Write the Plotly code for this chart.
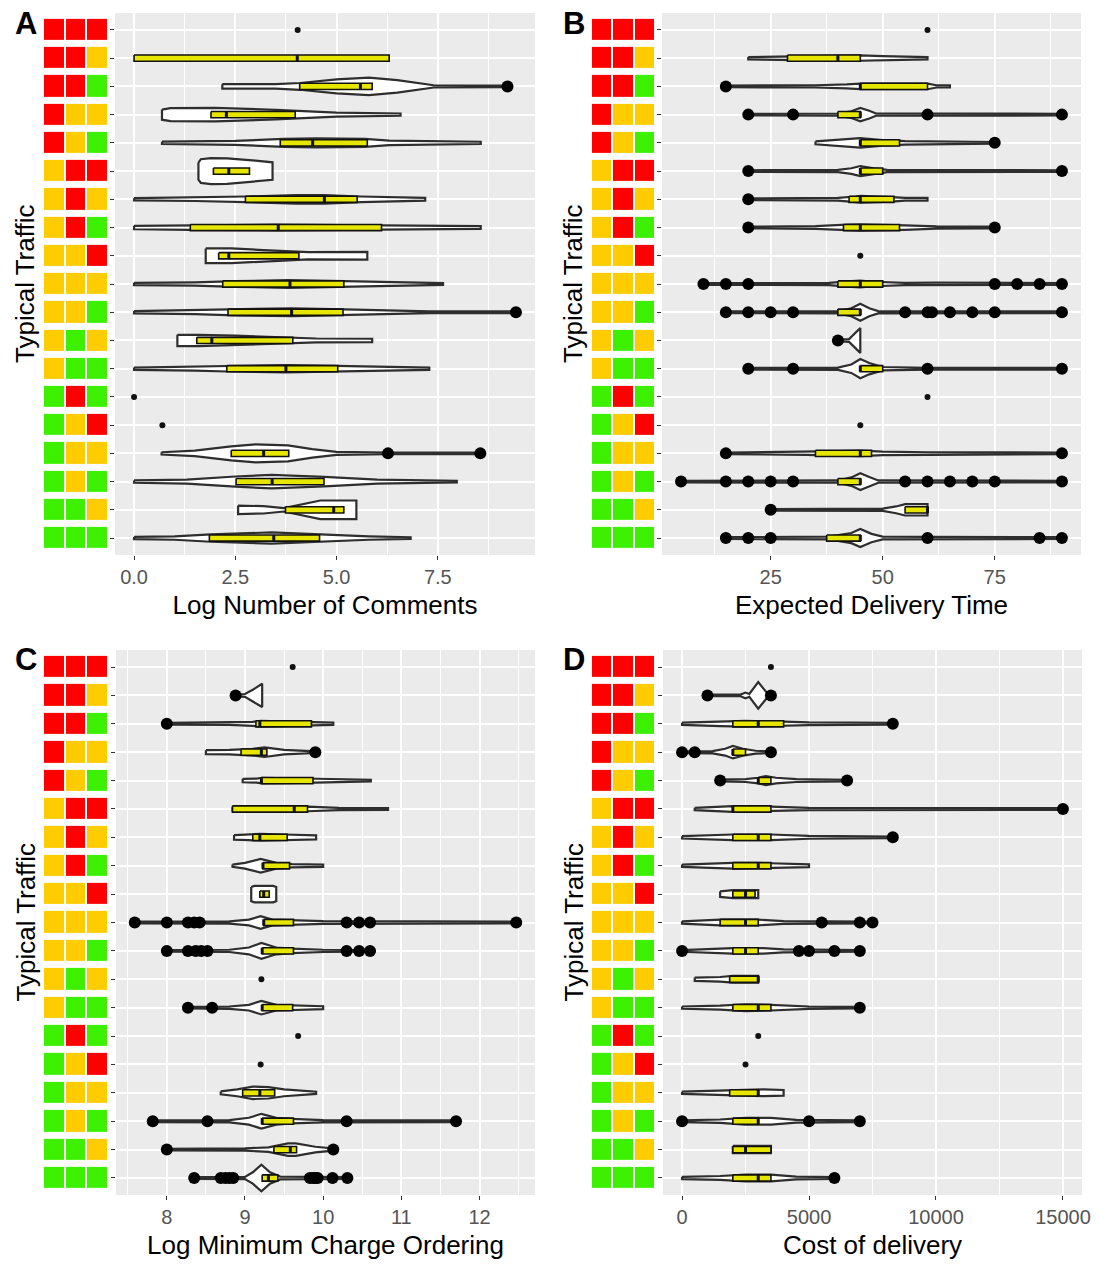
import plotly.graph_objects as go

# Traffic pattern of each row (three periods), top row first
traffic = ["RRR", "RRY", "RRG", "RYY", "RYG", "YRR", "YRY", "YRG", "YYR", "YYY",
           "YYG", "YGY", "YGG", "GRG", "GYR", "GYY", "GYG", "GGY", "GGG"]
level_code = {"G": 0, "Y": 1, "R": 2}
level_colors = ["#3CF000", "#FFCC00", "#FF0000"]

# ---------------- A: Log Number of Comments ----------------
comments_q1 = [None, 0.00, 4.09, 1.90, 3.61, 1.96, 2.75, 1.39, 2.09, 2.19, 2.32, 1.55, 2.29, None, None, 2.40, 2.52, 3.74, 1.86]
comments_med = [None, 4.03, 5.59, 2.28, 4.41, 2.34, 4.70, 3.56, 2.34, 3.85, 3.89, 1.92, 3.75, None, None, 3.20, 3.41, 4.93, 3.45]
comments_q3 = [None, 6.30, 5.88, 3.98, 5.76, 2.85, 5.51, 6.11, 4.07, 5.18, 5.16, 3.92, 5.03, None, None, 3.82, 4.69, 5.18, 4.58]
comments_single = [4.04, None, None, None, None, None, None, None, None, None, None, None, None, 0.00, 0.70, None, None, None, None]
comments_outliers = [[], [], [9.22], [], [], [], [], [], [], [], [9.43], [], [], [], [], [6.27, 8.55], [], [], []]
comments_violin = [
    [],
    [],
    [[2.18, 0.08], [3.5, 0.08], [4.1, 0.12], [5.0, 0.25], [5.8, 0.31], [6.5, 0.22], [7.4, 0.04], [9.22, 0.03]],
    [[0.69, 0.18], [0.9, 0.23], [2.0, 0.24], [3.5, 0.17], [5.0, 0.07], [6.58, 0.04]],
    [[0.69, 0.04], [2.5, 0.07], [3.7, 0.14], [4.5, 0.16], [5.7, 0.14], [6.3, 0.08], [8.56, 0.04]],
    [[1.59, 0.30], [1.65, 0.42], [1.9, 0.46], [2.3, 0.45], [3.0, 0.37], [3.42, 0.31]],
    [[0.0, 0.04], [1.5, 0.06], [2.75, 0.10], [4.0, 0.15], [4.7, 0.15], [5.6, 0.10], [6.5, 0.07], [7.19, 0.05]],
    [[0.0, 0.06], [1.4, 0.08], [3.5, 0.10], [6.1, 0.08], [7.5, 0.06], [8.56, 0.05]],
    [[1.77, 0.26], [2.4, 0.26], [3.2, 0.20], [4.3, 0.13], [5.76, 0.14]],
    [[0.0, 0.04], [1.5, 0.06], [2.5, 0.10], [3.8, 0.14], [5.2, 0.10], [6.5, 0.06], [7.63, 0.03]],
    [[0.0, 0.04], [1.5, 0.07], [2.5, 0.11], [3.9, 0.14], [5.2, 0.10], [6.5, 0.06], [7.3, 0.03], [9.43, 0.03]],
    [[1.07, 0.20], [1.6, 0.20], [2.5, 0.17], [3.9, 0.10], [4.5, 0.07], [5.88, 0.06]],
    [[0.0, 0.04], [1.5, 0.07], [2.3, 0.10], [3.75, 0.13], [5.0, 0.10], [6.2, 0.06], [7.29, 0.04]],
    [],
    [],
    [[0.68, 0.04], [1.5, 0.10], [2.4, 0.25], [3.0, 0.32], [3.8, 0.28], [4.4, 0.15], [5.0, 0.05], [6.27, 0.03], [8.55, 0.03]],
    [[0.0, 0.04], [1.3, 0.07], [2.5, 0.18], [3.4, 0.24], [4.7, 0.17], [6.0, 0.07], [7.97, 0.03]],
    [[2.57, 0.15], [3.2, 0.13], [3.7, 0.06], [4.2, 0.20], [4.6, 0.33], [5.49, 0.33]],
    [[0.0, 0.04], [1.0, 0.06], [1.9, 0.13], [3.4, 0.20], [4.6, 0.13], [5.8, 0.06], [6.83, 0.03]],
]

# ---------------- B: Expected Delivery Time ----------------
delivery_q1 = [None, 28.75, 45, 40, 45, 45, 42.5, 41.25, None, 40, 40, None, 45, None, None, 35, 40, 55, 37.5]
delivery_med = [None, 40, 45, 45, 45, 45, 45, 45, None, 45, 45, None, 45, None, None, 45, 45, 60, 45]
delivery_q3 = [None, 45, 60, 45, 53.75, 50, 52.5, 53.75, None, 50, 45, None, 50, None, None, 47.5, 45, 60, 45]
delivery_single = [60, None, None, None, None, None, None, None, 45, None, None, None, None, 60, 45, None, None, None, None]
delivery_outliers = [
    [], [], [15], [20, 30, 60, 90], [75], [20, 90], [20], [20, 75], [],
    [10, 15, 20, 75, 80, 85, 90],
    [15, 20, 25, 30, 55, 60, 61, 65, 70, 75, 90],
    [40],
    [20, 30, 60, 90],
    [], [],
    [15, 90],
    [5, 15, 20, 25, 30, 55, 60, 65, 70, 75, 90],
    [25],
    [15, 20, 25, 60, 85, 90],
]
delivery_violin = [
    [],
    [[20, 0.04], [26, 0.06], [35, 0.08], [42, 0.10], [45, 0.10], [50, 0.07], [60, 0.04]],
    [[15, 0.03], [35, 0.04], [42, 0.07], [45, 0.10], [55, 0.10], [60, 0.10], [62, 0.04], [65, 0.04]],
    [[20, 0.03], [40, 0.04], [43, 0.12], [45, 0.24], [47, 0.14], [48.5, 0.04], [90, 0.03]],
    [[35, 0.05], [40, 0.10], [45, 0.17], [50, 0.10], [55, 0.06], [75, 0.03]],
    [[20, 0.03], [40, 0.04], [43, 0.10], [45, 0.18], [48, 0.10], [51, 0.04], [90, 0.03]],
    [[20, 0.03], [40, 0.05], [44, 0.10], [45, 0.12], [52, 0.08], [55, 0.05], [60, 0.05]],
    [[20, 0.03], [35, 0.05], [42, 0.10], [45, 0.11], [55, 0.08], [62, 0.04], [75, 0.03]],
    [],
    [[10, 0.03], [38, 0.04], [43, 0.10], [45, 0.12], [48, 0.08], [55, 0.04], [62, 0.05], [90, 0.03]],
    [[15, 0.03], [40, 0.04], [43, 0.14], [45, 0.30], [47, 0.14], [49, 0.04], [90, 0.03]],
    [[40, 0.03], [42.5, 0.05], [45, 0.44]],
    [[20, 0.03], [40, 0.04], [43, 0.15], [45, 0.34], [47, 0.20], [50, 0.06], [60, 0.03], [90, 0.03]],
    [],
    [],
    [[15, 0.03], [33, 0.05], [40, 0.08], [45, 0.10], [50, 0.06], [60, 0.04], [90, 0.03]],
    [[5, 0.03], [40, 0.04], [43, 0.15], [45, 0.30], [47, 0.16], [49, 0.04], [90, 0.03]],
    [[25, 0.03], [50, 0.04], [53, 0.12], [55, 0.20], [60, 0.20]],
    [[15, 0.03], [38, 0.05], [43, 0.18], [45, 0.32], [47.5, 0.15], [50, 0.05], [60, 0.04], [90, 0.03]],
]

# ---------------- C: Log Minimum Charge Ordering ----------------
charge_q1 = [None, None, 9.14, 8.95, 9.21, 8.84, 9.10, 9.23, 9.19, 9.24, 9.22, None, 9.22, None, None, 8.97, 9.22, 9.37, 9.22]
charge_med = [None, None, 9.19, 9.21, 9.21, 9.63, 9.19, 9.23, 9.24, 9.24, 9.22, None, 9.22, None, None, 9.19, 9.22, 9.58, 9.30]
charge_q3 = [None, None, 9.85, 9.28, 9.87, 9.80, 9.54, 9.57, 9.31, 9.62, 9.62, None, 9.61, None, None, 9.38, 9.62, 9.66, 9.42]
charge_single = [9.61, None, None, None, None, None, None, None, None, None, None, 9.21, None, 9.68, 9.20, None, None, None, None]
charge_outliers = [
    [], [8.88], [8.0], [9.9], [], [], [], [], [],
    [7.59, 8.0, 8.27, 8.35, 8.42, 10.3, 10.46, 10.6, 12.47],
    [8.0, 8.27, 8.37, 8.44, 8.52, 10.3, 10.46, 10.6],
    [],
    [8.27, 8.58],
    [], [], [],
    [7.82, 8.52, 10.3, 11.7],
    [8.0, 10.13],
    [8.35, 8.69, 8.75, 8.8, 8.85, 9.83, 9.87, 9.9, 9.93, 10.12, 10.31],
]
charge_violin = [
    [],
    [[8.88, 0.03], [9.0, 0.05], [9.1, 0.20], [9.22, 0.41]],
    [[8.0, 0.03], [8.8, 0.04], [9.1, 0.07], [9.2, 0.10], [9.5, 0.08], [9.9, 0.06], [10.13, 0.04]],
    [[8.5, 0.07], [8.8, 0.08], [9.1, 0.12], [9.25, 0.17], [9.5, 0.08], [9.9, 0.03]],
    [[8.97, 0.06], [9.15, 0.07], [9.22, 0.10], [9.5, 0.09], [9.9, 0.07], [10.2, 0.04], [10.61, 0.03]],
    [[8.84, 0.06], [9.3, 0.07], [9.8, 0.08], [10.2, 0.04], [10.83, 0.03]],
    [[8.86, 0.08], [9.05, 0.10], [9.2, 0.12], [9.5, 0.10], [9.91, 0.07]],
    [[8.84, 0.04], [9.0, 0.10], [9.2, 0.24], [9.4, 0.10], [9.6, 0.06], [10.0, 0.04]],
    [[9.08, 0.25], [9.12, 0.29], [9.36, 0.29], [9.40, 0.25]],
    [[7.59, 0.03], [8.8, 0.04], [9.05, 0.10], [9.2, 0.22], [9.35, 0.10], [9.6, 0.08], [10.0, 0.05], [12.47, 0.03]],
    [[8.0, 0.03], [8.8, 0.04], [9.05, 0.12], [9.21, 0.28], [9.4, 0.12], [9.6, 0.08], [10.0, 0.04], [10.6, 0.03]],
    [],
    [[8.27, 0.03], [8.8, 0.04], [9.05, 0.10], [9.21, 0.24], [9.4, 0.10], [9.7, 0.07], [10.0, 0.05]],
    [],
    [],
    [[8.69, 0.05], [8.9, 0.12], [9.1, 0.22], [9.3, 0.20], [9.5, 0.12], [9.7, 0.07], [9.91, 0.04]],
    [[7.82, 0.03], [8.8, 0.04], [9.05, 0.12], [9.21, 0.26], [9.4, 0.12], [9.6, 0.08], [10.0, 0.04], [11.7, 0.03]],
    [[8.0, 0.03], [9.0, 0.04], [9.3, 0.08], [9.55, 0.22], [9.65, 0.22], [9.9, 0.10], [10.13, 0.04]],
    [[8.35, 0.03], [9.0, 0.04], [9.1, 0.20], [9.21, 0.47], [9.32, 0.20], [9.45, 0.05], [10.31, 0.03]],
]

# ---------------- D: Cost of delivery ----------------
cost_q1 = [None, None, 2000, 2000, 3000, 2000, 2000, 2000, 2000, 1500, 2000, 1875, 2000, None, None, 1875, 2000, 2000, 2000]
cost_med = [None, None, 3000, 2000, 3000, 2000, 3000, 3000, 2500, 2500, 2500, 3000, 3000, None, None, 3000, 3000, 2500, 3000]
cost_q3 = [None, None, 4000, 2500, 3500, 3500, 3500, 3500, 2875, 3000, 3000, 3000, 3500, None, None, 3000, 3000, 3500, 3500]
cost_single = [3500, None, None, None, None, None, None, None, None, None, None, None, None, 3000, 2500, None, None, None, None]
cost_outliers = [
    [], [1000, 3500], [8300], [0, 500, 3500], [1500, 6500], [15000], [8300], [], [],
    [5500, 7000, 7500],
    [0, 4600, 5000, 6000, 7000],
    [],
    [7000],
    [], [], [],
    [0, 5000, 7000],
    [],
    [6000],
]
cost_violin = [
    [],
    [[1000, 0.03], [2300, 0.03], [2500, 0.10], [2650, 0.05], [3000, 0.47], [3350, 0.08], [3500, 0.03]],
    [[0, 0.04], [1500, 0.08], [2500, 0.10], [4000, 0.08], [5000, 0.05], [8300, 0.03]],
    [[0, 0.03], [1200, 0.04], [1700, 0.12], [2000, 0.22], [2400, 0.12], [2900, 0.05], [3500, 0.03]],
    [[1500, 0.03], [2500, 0.05], [3000, 0.10], [3300, 0.16], [3700, 0.10], [4500, 0.05], [6500, 0.03]],
    [[500, 0.04], [2000, 0.10], [3500, 0.08], [5000, 0.04], [15000, 0.03]],
    [[0, 0.04], [2000, 0.10], [3500, 0.10], [5000, 0.05], [8300, 0.03]],
    [[0, 0.04], [2000, 0.10], [3000, 0.10], [4000, 0.07], [5000, 0.05]],
    [[1500, 0.10], [2000, 0.14], [3000, 0.14]],
    [[0, 0.04], [1500, 0.10], [3000, 0.10], [4000, 0.05], [7500, 0.03]],
    [[0, 0.03], [2000, 0.10], [3200, 0.10], [4000, 0.05], [7000, 0.03]],
    [[500, 0.06], [1500, 0.08], [2000, 0.12], [3000, 0.12]],
    [[0, 0.04], [1500, 0.07], [2500, 0.12], [3500, 0.10], [5000, 0.04], [7000, 0.03]],
    [],
    [],
    [[0, 0.04], [1500, 0.07], [2500, 0.10], [3200, 0.12], [4000, 0.10]],
    [[0, 0.03], [1500, 0.06], [2500, 0.12], [3500, 0.12], [4500, 0.05], [7000, 0.03]],
    [[2000, 0.13], [3500, 0.13]],
    [[0, 0.04], [1500, 0.07], [2500, 0.12], [3500, 0.12], [4500, 0.05], [6000, 0.03]],
]

panel_letters = ["A", "B", "C", "D"]
panel_titles = ["Log Number of Comments", "Expected Delivery Time",
                "Log Minimum Charge Ordering", "Cost of delivery"]
panel_ranges = [[-0.47, 9.9], [0.75, 94.25], [7.35, 12.71], [-750, 15750]]
panel_dtick = [2.5, 25, 1, 5000]
panel_tickformat = [".1f", "d", "d", "d"]

panels = [
    (comments_q1, comments_med, comments_q3, comments_single, comments_outliers, comments_violin),
    (delivery_q1, delivery_med, delivery_q3, delivery_single, delivery_outliers, delivery_violin),
    (charge_q1, charge_med, charge_q3, charge_single, charge_outliers, charge_violin),
    (cost_q1, cost_med, cost_q3, cost_single, cost_outliers, cost_violin),
]

W, H = 1099, 1267
BOX_HALF = 0.11  # half height of the yellow boxes, in row units


def px_x(p):
    return p / W


def px_y(p):
    return 1 - p / H


# panel geometry in pixels: (plot left, plot right, top, bottom, squares left, squares right)
geom = [
    (115, 535, 13, 555, 43, 108),
    (662, 1081, 13, 555, 591, 655),
    (116, 535, 650, 1195, 43, 108),
    (663, 1082, 650, 1195, 591, 655),
]

FONT = "Liberation Sans, Arial, Helvetica, sans-serif"
fig = go.Figure()
layout = dict(
    width=W, height=H, margin=dict(l=0, r=0, t=0, b=0),
    paper_bgcolor="white", plot_bgcolor="white",
    showlegend=False, font=dict(family=FONT, color="black"),
    shapes=[], annotations=[],
)

rows = list(range(len(traffic)))
heat_z = [[level_code[c] for c in pattern] for pattern in traffic]
colorscale = [[0, level_colors[0]], [0.3333, level_colors[0]],
              [0.3334, level_colors[1]], [0.6666, level_colors[1]],
              [0.6667, level_colors[2]], [1, level_colors[2]]]

for i, (q1, med, q3, single, outl, viol) in enumerate(panels):
    n = i + 1
    xa, ya = f"x{'' if n == 1 else n}", f"y{'' if n == 1 else n}"
    xs_id, ys_id = f"x{n + 4}", f"y{n + 4}"
    left, right, top, bottom, sl, sr = geom[i]

    # traffic colour squares
    fig.add_trace(go.Heatmap(
        z=heat_z, x=[0, 1, 2], y=rows, colorscale=colorscale, zmin=0, zmax=2,
        showscale=False, xgap=2, ygap=7, hoverinfo="skip",
        xaxis=xs_id, yaxis=ys_id))

    # violin outlines from the density profiles
    vx, vy = [], []
    for r, knots in enumerate(viol):
        if not knots:
            continue
        xs = [k[0] for k in knots] + [k[0] for k in reversed(knots)] + [knots[0][0]]
        ys = [r - k[1] for k in knots] + [r + k[1] for k in reversed(knots)] + [r - knots[0][1]]
        vx += xs + [None]
        vy += ys + [None]
    fig.add_trace(go.Scatter(
        x=vx, y=vy, mode="lines", fill="toself", fillcolor="white",
        line=dict(color="#2e2e2e", width=2.2), hoverinfo="skip",
        xaxis=xa, yaxis=ya))

    # yellow interquartile boxes drawn over the violins
    bx, by, mx, my = [], [], [], []
    for r in rows:
        if q1[r] is None:
            continue
        bx += [q1[r], q3[r], q3[r], q1[r], q1[r], None]
        by += [r - BOX_HALF, r - BOX_HALF, r + BOX_HALF, r + BOX_HALF, r - BOX_HALF, None]
        mx += [med[r], med[r], None]
        my += [r - BOX_HALF, r + BOX_HALF, None]
    fig.add_trace(go.Scatter(
        x=bx, y=by, mode="lines", fill="toself", fillcolor="#E6E600",
        line=dict(color="#111111", width=1.6), hoverinfo="skip",
        xaxis=xa, yaxis=ya))
    fig.add_trace(go.Scatter(
        x=mx, y=my, mode="lines", line=dict(color="#111111", width=3),
        hoverinfo="skip", xaxis=xa, yaxis=ya))

    # outliers
    ox, oy = [], []
    for r, vals in enumerate(outl):
        ox += vals
        oy += [r] * len(vals)
    fig.add_trace(go.Scatter(
        x=ox, y=oy, mode="markers", marker=dict(color="black", size=12),
        hoverinfo="skip", xaxis=xa, yaxis=ya))

    # rows with a single observation
    sx = [v for v in single if v is not None]
    sy = [r for r, v in enumerate(single) if v is not None]
    fig.add_trace(go.Scatter(
        x=sx, y=sy, mode="markers", marker=dict(color="#111111", size=6),
        hoverinfo="skip", xaxis=xa, yaxis=ya))

    dt = panel_dtick[i]
    layout[f"xaxis{'' if n == 1 else n}"] = dict(
        domain=[px_x(left), px_x(right)], anchor=ya, range=panel_ranges[i],
        tick0=0, dtick=dt, tickformat=panel_tickformat[i],
        showgrid=True, gridcolor="white", gridwidth=1.8, zeroline=False,
        minor=dict(dtick=dt / 2, tick0=0, showgrid=True, gridcolor="white", gridwidth=0.8),
        ticks="outside", ticklen=4, tickwidth=1.2, tickcolor="#333333",
        tickfont=dict(size=20, color="#555555", family=FONT),
        title=dict(text=panel_titles[i], font=dict(size=26, color="black", family=FONT), standoff=8),
        automargin=False, fixedrange=True)
    layout[f"yaxis{'' if n == 1 else n}"] = dict(
        domain=[px_y(bottom), px_y(top)], anchor=xa, range=[18.6, -0.6],
        tickvals=rows, showticklabels=False, showgrid=True, gridcolor="white",
        gridwidth=1.8, zeroline=False, ticks="outside", ticklen=4, tickwidth=1.2,
        tickcolor="#333333", automargin=False, fixedrange=True)
    layout[f"xaxis{n + 4}"] = dict(
        domain=[px_x(sl), px_x(sr)], anchor=ys_id, range=[-0.5, 2.5], visible=False,
        fixedrange=True)
    layout[f"yaxis{n + 4}"] = dict(
        domain=[px_y(bottom), px_y(top)], anchor=xs_id, range=[18.6, -0.6], visible=False,
        fixedrange=True)

    # grey panel background beneath the grid
    layout["shapes"].append(dict(
        type="rect", xref=f"{xa} domain", yref=f"{ya} domain", x0=0, x1=1, y0=0, y1=1,
        fillcolor="#EBEBEB", line=dict(width=0), layer="below"))

    # panel letter
    layout["annotations"].append(dict(
        text=f"<b>{panel_letters[i]}</b>", x=px_x(sl - 17), y=px_y(top + 10),
        xref="paper", yref="paper", showarrow=False, xanchor="center", yanchor="middle",
        font=dict(size=31, color="black", family=FONT)))
    # y axis title
    layout["annotations"].append(dict(
        text="Typical Traffic", x=px_x(sl - 18), y=px_y((top + bottom) / 2),
        xref="paper", yref="paper", showarrow=False, textangle=-90,
        xanchor="center", yanchor="middle",
        font=dict(size=26, color="black", family=FONT)))

fig.update_layout(**layout)
fig.write_html("out.html")
